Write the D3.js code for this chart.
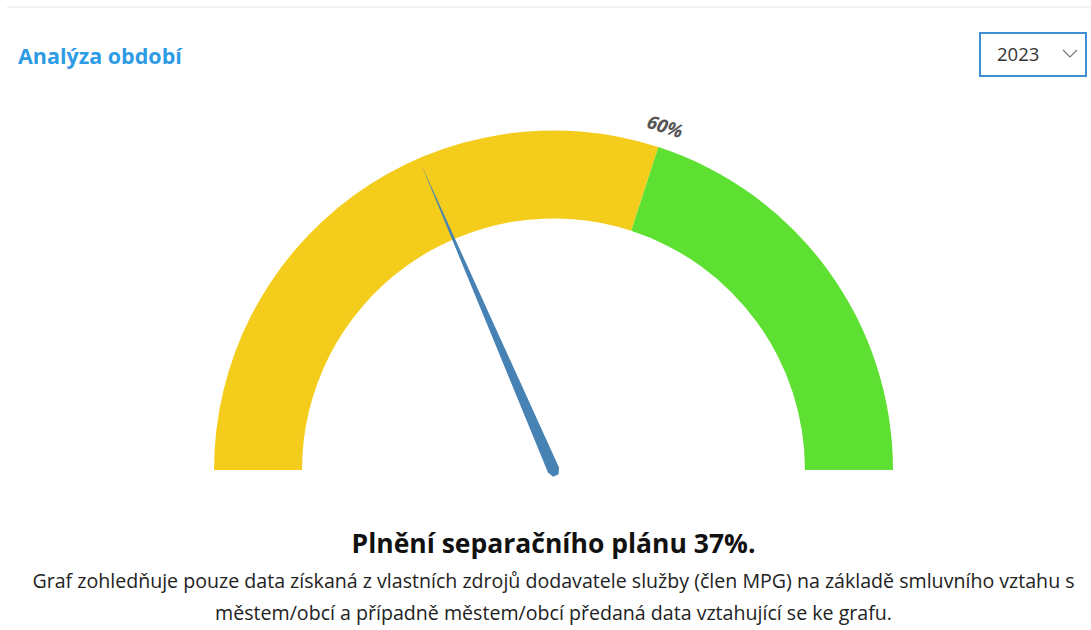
<!DOCTYPE html>
<html>
<head>
<meta charset="utf-8">
<script src="https://cdn.jsdelivr.net/npm/d3@7"></script>
<style>
  html, body { margin: 0; padding: 0; background: #fff; }
  svg { display: block; font-family: "Open Sans", "Noto Sans", sans-serif; }
</style>
</head>
<body>
<script>
// data
var bandStarts = [0, 60];
var bandEnds = [60, 100];
var bandColors = ['#F4CD1C', '#5EE032'];
var thresholdLabels = ['60%'];
var thresholdValues = [60];
var planValue = 37;
var years = ['2023'];

var width = 1091, height = 630;
var cx = 553.5, cy = 470;
var outerR = 339.5, innerR = 251.5;

var svg = d3.select('body').append('svg')
  .attr('width', width)
  .attr('height', height);

// top divider
svg.append('line')
  .attr('x1', 7).attr('y1', 7).attr('x2', width).attr('y2', 7)
  .attr('stroke', '#f2f2f2').attr('stroke-width', 2);

svg.append('text')
  .attr('x', 18).attr('y', 64)
  .attr('fill', '#2E9BE5')
  .attr('font-size', 21.5)
  .attr('font-weight', 'bold')
  .text('Analýza období');

// year select
var sel = svg.append('g').attr('transform', 'translate(980,33)');
sel.append('rect')
  .attr('width', 106).attr('height', 43)
  .attr('fill', '#fff')
  .attr('stroke', '#3F8FD2').attr('stroke-width', 2);
sel.append('text')
  .attr('x', 17).attr('y', 28)
  .attr('font-size', 18.5).attr('fill', '#333')
  .text(years[0]);
sel.append('path')
  .attr('d', 'M83,17 L90,24 L97,17')
  .attr('fill', 'none').attr('stroke', '#777').attr('stroke-width', 1.2);

// gauge
var angle = d3.scaleLinear().domain([0, 100]).range([-Math.PI / 2, Math.PI / 2]);
var arc = d3.arc().innerRadius(innerR).outerRadius(outerR);

var g = svg.append('g').attr('transform', 'translate(' + cx + ',' + cy + ')');

g.selectAll('path.band')
  .data(bandStarts)
  .enter().append('path')
  .attr('class', 'band')
  .attr('fill', function(d, i) { return bandColors[i]; })
  .attr('d', function(d, i) {
    return arc({ startAngle: angle(d), endAngle: angle(bandEnds[i]) });
  });

g.selectAll('text.thr')
  .data(thresholdValues)
  .enter().append('text')
  .attr('class', 'thr')
  .attr('transform', function(d) {
    var deg = angle(d) * 180 / Math.PI;
    return 'rotate(' + deg + ') translate(0,' + (-outerR - 15) + ')';
  })
  .attr('text-anchor', 'middle')
  .attr('font-size', 18.5)
  .attr('font-style', 'italic')
  .attr('font-weight', 'bold')
  .attr('fill', '#555')
  .text(function(d, i) { return thresholdLabels[i]; });

// needle
var needleLen = 333;
g.append('path')
  .attr('d', 'M0,' + (-needleLen) + ' L6,0 L3,6 L-3,6 L-6,0 Z')
  .attr('fill', '#4682B4')
  .attr('transform', 'rotate(' + (angle(planValue) * 180 / Math.PI) + ')');

// captions
svg.append('text')
  .attr('x', cx).attr('y', 553)
  .attr('text-anchor', 'middle')
  .attr('font-size', 26.5)
  .attr('font-weight', 'bold')
  .attr('fill', '#111')
  .text('Plnění separačního plánu ' + planValue + '%.');

var notes = [
  'Graf zohledňuje pouze data získaná z vlastních zdrojů dodavatele služby (člen MPG) na základě smluvního vztahu s',
  'městem/obcí a případně městem/obcí předaná data vztahující se ke grafu.'
];
svg.selectAll('text.note')
  .data(notes)
  .enter().append('text')
  .attr('class', 'note')
  .attr('x', cx)
  .attr('y', function(d, i) { return 588 + i * 32; })
  .attr('text-anchor', 'middle')
  .attr('font-size', 19.6)
  .attr('fill', '#222')
  .text(function(d) { return d; });
</script>
</body>
</html>
